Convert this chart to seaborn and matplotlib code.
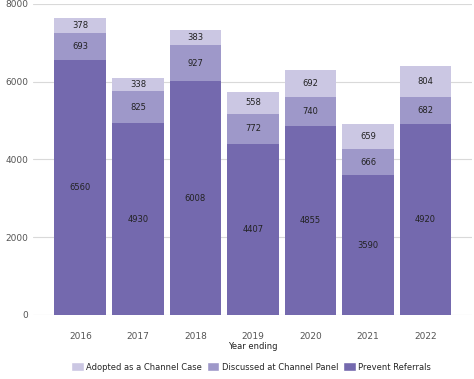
import pandas as pd
import seaborn as sns
import matplotlib.pyplot as plt
from matplotlib.patches import Patch

years = ["2016", "2017", "2018", "2019", "2020", "2021", "2022"]
prevent = [6560, 4930, 6008, 4407, 4855, 3590, 4920]
discussed = [693, 825, 927, 772, 740, 666, 682]
adopted = [378, 338, 383, 558, 692, 659, 804]

series_names = ["Adopted as a Channel Case", "Discussed at Channel Panel", "Prevent Referrals"]
colors = {"Prevent Referrals": "#7469ae", "Discussed at Channel Panel": "#9e98c9", "Adopted as a Channel Case": "#cbc7e3"}

df = pd.DataFrame({"year": years, "prevent": prevent, "discussed": discussed, "adopted": adopted})
df["mid"] = df["prevent"] + df["discussed"]
df["top"] = df["mid"] + df["adopted"]

sns.set_style("white")
fig, ax = plt.subplots(figsize=(4.74, 3.79), dpi=100)
fig.subplots_adjust(left=0.07, right=0.995, top=0.99, bottom=0.169)

bar_kw = dict(width=0.9, saturation=1, linewidth=0, ax=ax)
sns.barplot(data=df, x="year", y="top", color=colors["Adopted as a Channel Case"], zorder=2, **bar_kw)
sns.barplot(data=df, x="year", y="mid", color=colors["Discussed at Channel Panel"], zorder=3, **bar_kw)
sns.barplot(data=df, x="year", y="prevent", color=colors["Prevent Referrals"], zorder=4, **bar_kw)

for i, row in df.iterrows():
    ax.text(i, row["prevent"] / 2, str(row["prevent"]), ha="center", va="center", fontsize=6, color="#222222", zorder=5)
    ax.text(i, row["prevent"] + row["discussed"] / 2, str(row["discussed"]), ha="center", va="center", fontsize=6, color="#222222", zorder=5)
    ax.text(i, row["mid"] + row["adopted"] / 2, str(row["adopted"]), ha="center", va="center", fontsize=6, color="#222222", zorder=5)

ax.set_ylim(0, 8000)
ax.set_xlim(-0.82, 6.80)
ax.set_yticks([0, 2000, 4000, 6000, 8000])
ax.yaxis.grid(True, color="#d9d9d9", linewidth=0.8, zorder=0)
ax.set_axisbelow(True)
for s in ax.spines.values():
    s.set_visible(False)
ax.tick_params(axis="both", length=0, labelsize=6.5, colors="#555555")
ax.tick_params(axis="x", pad=12)
ax.set_ylabel("")
ax.set_xlabel("Year ending", fontsize=6, color="#222222", labelpad=1)

handles = [Patch(facecolor=colors[n], label=n) for n in series_names]
fig.legend(handles=handles, loc="lower center", bbox_to_anchor=(0.53, 0.0), ncol=3, frameon=False,
           fontsize=6, handlelength=1.5, handleheight=1.2, handletextpad=0.3, columnspacing=0.6)

fig.savefig("out.png", dpi=100)
